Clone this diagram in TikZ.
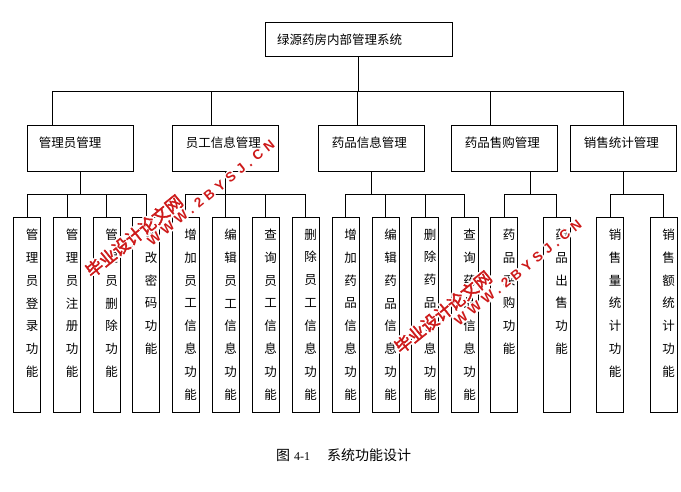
\documentclass[tikz,border=0pt]{standalone}
\usepackage{fontspec}
\setmainfont{Liberation Serif}
\newfontfamily\cjk{Noto Sans CJK SC}
\newfontfamily\cjkwm[FakeBold=2.5]{Noto Sans CJK SC}
\newfontfamily\latwm[LetterSpace=35]{Liberation Sans}
\usetikzlibrary{calc}
\definecolor{wmred}{RGB}{205,25,25}
\newcommand\mywmark[5]{%
  \foreach \dx/\dy [count=\k] in {1.6/0,-1.6/0,0/1.6,0/-1.6,1.1/1.1,-1.1/1.1,1.1/-1.1,-1.1/-1.1}
    \node[#4,rotate=39,text=white] (#1h\k) at ($(#2,#3)+(\dx,\dy)$) {#5};
  \node[#4,rotate=39] (#1) at (#2,#3) {#5};}
\begin{document}
\begin{tikzpicture}[x=1pt,y=-1pt,
  conn/.style={draw,line width=0.9pt},
  topbox/.style={draw,line width=0.9pt,inner sep=0,minimum width=187pt,minimum height=34pt},
  midbox/.style={draw,line width=0.9pt,inner sep=0,minimum width=106pt,minimum height=46pt},
  leaf/.style={draw,line width=0.9pt,inner sep=0,minimum width=27pt,minimum height=195pt},
  htxt/.style={font=\cjk\fontsize{12.5}{12.5}\selectfont,anchor=west,inner sep=0},
  vtxt/.style={font=\cjk\fontsize{12.5}{22.9}\selectfont,align=center,anchor=north,inner sep=0},
  wmcn/.style={font=\cjkwm\fontsize{17}{17}\selectfont,text=wmred,inner sep=0},
  wmen/.style={font=\latwm\bfseries\fontsize{13.5}{13.5}\selectfont,text=wmred,inner sep=0}]
\useasboundingbox (0,0) rectangle (681,492);
\fill[white] (0,0) rectangle (681,492);

% top
\node[topbox] (top) at (358.5,39) {};
\node[htxt] (topt) at (277,40) {绿源药房内部管理系统};

% level 2
\node[midbox] (b1) at (80,148) {};
\node[midbox] (b2) at (225,148) {};
\node[midbox] (b3) at (371,148) {};
\node[midbox] (b4) at (504,148) {};
\node[midbox] (b5) at (623,148) {};
\node[htxt] (b1t) at ($(b1.west)+(12,-5)$) {管理员管理};
\node[htxt] (b2t) at ($(b2.west)+(14,-5)$) {员工信息管理};
\node[htxt] (b3t) at ($(b3.west)+(14,-5)$) {药品信息管理};
\node[htxt] (b4t) at ($(b4.west)+(14,-5)$) {药品售购管理};
\node[htxt] (b5t) at ($(b5.west)+(14,-5)$) {销售统计管理};

% level 3
\node[leaf] (c1) at (27,314.5) {};
\node[leaf] (c2) at (67,314.5) {};
\node[leaf] (c3) at (106.5,314.5) {};
\node[leaf] (c4) at (146,314.5) {};
\node[leaf] (c5) at (185.5,314.5) {};
\node[leaf] (c6) at (225.5,314.5) {};
\node[leaf] (c7) at (265.5,314.5) {};
\node[leaf] (c8) at (305.5,314.5) {};
\node[leaf] (c9) at (345.5,314.5) {};
\node[leaf] (c10) at (385.5,314.5) {};
\node[leaf] (c11) at (425,314.5) {};
\node[leaf] (c12) at (464.5,314.5) {};
\node[leaf] (c13) at (504,314.5) {};
\node[leaf] (c14) at (556.5,314.5) {};
\node[leaf] (c15) at (610,314.5) {};
\node[leaf] (c16) at (663.5,314.5) {};

\node[vtxt] (c1t) at ($(c1.north)+(5,12)$) {管\\理\\员\\登\\录\\功\\能};
\node[vtxt] (c2t) at ($(c2.north)+(5,12)$) {管\\理\\员\\注\\册\\功\\能};
\node[vtxt] (c3t) at ($(c3.north)+(5,12)$) {管\\理\\员\\删\\除\\功\\能};
\node[vtxt] (c4t) at ($(c4.north)+(5,12)$) {修\\改\\密\\码\\功\\能};
\node[vtxt] (c5t) at ($(c5.north)+(5,12)$) {增\\加\\员\\工\\信\\息\\功\\能};
\node[vtxt] (c6t) at ($(c6.north)+(5,12)$) {编\\辑\\员\\工\\信\\息\\功\\能};
\node[vtxt] (c7t) at ($(c7.north)+(5,12)$) {查\\询\\员\\工\\信\\息\\功\\能};
\node[vtxt] (c8t) at ($(c8.north)+(5,12)$) {删\\除\\员\\工\\信\\息\\功\\能};
\node[vtxt] (c9t) at ($(c9.north)+(5,12)$) {增\\加\\药\\品\\信\\息\\功\\能};
\node[vtxt] (c10t) at ($(c10.north)+(5,12)$) {编\\辑\\药\\品\\信\\息\\功\\能};
\node[vtxt] (c11t) at ($(c11.north)+(5,12)$) {删\\除\\药\\品\\信\\息\\功\\能};
\node[vtxt] (c12t) at ($(c12.north)+(5,12)$) {查\\询\\药\\品\\信\\息\\功\\能};
\node[vtxt] (c13t) at ($(c13.north)+(5,12)$) {药\\品\\采\\购\\功\\能};
\node[vtxt] (c14t) at ($(c14.north)+(5,12)$) {药\\品\\出\\售\\功\\能};
\node[vtxt] (c15t) at ($(c15.north)+(5,12)$) {销\\售\\量\\统\\计\\功\\能};
\node[vtxt] (c16t) at ($(c16.north)+(5,12)$) {销\\售\\额\\统\\计\\功\\能};

% connectors level 1 -> 2
\coordinate (bus) at (0,91);
\coordinate (t1) at ($(b1.north west)+(26,0)$);
\coordinate (t2) at ($(b2.north west)+(40,0)$);
\coordinate (t3) at ($(b3.north west)+(40,0)$);
\coordinate (t4) at ($(b4.north west)+(40,0)$);
\coordinate (t5) at ($(b5.north west)+(54,0)$);
\draw[conn] (top.south) -- (top.south |- bus);
\draw[conn] (t1) -- (t1 |- bus) -- (t5 |- bus) -- (t5);
\foreach \t in {t2,t3,t4} \draw[conn] (\t) -- (\t |- bus);

% connectors level 2 -> 3
\coordinate (sub) at (0,194);
\draw[conn] (b1.south) -- (b1.south |- sub);
\draw[conn] (c1.north) -- (c1.north |- sub) -- (c4.north |- sub) -- (c4.north);
\foreach \c in {c2,c3} \draw[conn] (\c.north) -- (\c.north |- sub);
\draw[conn] (b2.south) -- (b2.south |- sub);
\draw[conn] (c5.north) -- (c5.north |- sub) -- (c8.north |- sub) -- (c8.north);
\foreach \c in {c6,c7} \draw[conn] (\c.north) -- (\c.north |- sub);
\draw[conn] (b3.south) -- (b3.south |- sub);
\draw[conn] (c9.north) -- (c9.north |- sub) -- (c12.north |- sub) -- (c12.north);
\foreach \c in {c10,c11} \draw[conn] (\c.north) -- (\c.north |- sub);
\coordinate (m4) at ($(c13.north)!0.5!(c14.north)$);
\draw[conn] (m4 |- b4.south) -- (m4 |- sub);
\draw[conn] (c13.north) -- (c13.north |- sub) -- (c14.north |- sub) -- (c14.north);
\draw[conn] (b5.south) -- (b5.south |- sub);
\draw[conn] (c15.north) -- (c15.north |- sub) -- (c16.north |- sub) -- (c16.north);

% caption
\node[anchor=west,inner sep=0] (cap) at (276,455) {{\cjk\fontsize{14}{14}\selectfont 图}\hspace{4pt}{\fontsize{12}{12}\selectfont 4-1}\hspace{17pt}{\cjk\fontsize{14}{14}\selectfont 系统功能设计}};

% watermarks
\mywmark{wm1a}{134}{236}{wmcn}{毕业设计论文网}
\mywmark{wm1b}{211}{193}{wmen}{WWW.2BYSJ.CN}
\mywmark{wm2a}{443}{312}{wmcn}{毕业设计论文网}
\mywmark{wm2b}{518}{273}{wmen}{WWW.2BYSJ.CN}
\end{tikzpicture}
\end{document}
